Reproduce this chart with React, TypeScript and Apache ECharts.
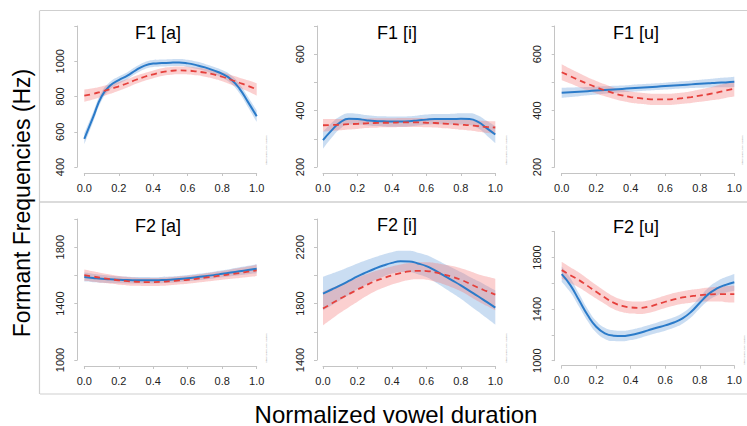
import React, { useEffect, useRef } from 'react';
import * as echarts from 'echarts';

// normalized time points
const T = [0, 0.05, 0.1, 0.15, 0.2, 0.25, 0.3, 0.35, 0.4, 0.45, 0.5, 0.55, 0.6, 0.65, 0.7, 0.75, 0.8, 0.85, 0.9, 0.95, 1];

const TITLES = ['F1 [a]', 'F1 [i]', 'F1 [u]', 'F2 [a]', 'F2 [i]', 'F2 [u]'];
const Y_MIN = [400, 200, 200, 1000, 1400, 1000];
const Y_MAX = [1200, 700, 700, 2000, 2400, 2000];
const Y_STEP = [200, 100, 100, 200, 200, 200];
const Y_LABELS = [
  [400, 600, 800, 1000],
  [200, 400, 600],
  [200, 400, 600],
  [1000, 1400, 1800],
  [1400, 1800, 2200],
  [1000, 1400, 1800],
];

// blue (solid) fitted means and CI half-widths
const BLUE_MEAN = [
  [560, 680, 800, 862, 893, 918, 950, 975, 987, 990, 992, 993, 988, 978, 965, 948, 928, 898, 845, 768, 688],
  [295, 330, 358, 371, 370, 366, 363, 362, 361, 361, 362, 365, 368, 370, 370, 370, 371, 370, 360, 338, 315],
  [463, 465, 467, 469, 471, 473, 475, 477, 479, 481, 483, 485, 487, 489, 491, 493, 495, 497, 499, 500, 502],
  [1588, 1582, 1576, 1572, 1569, 1567, 1566, 1565, 1565, 1567, 1570, 1574, 1580, 1587, 1594, 1602, 1611, 1620, 1629, 1638, 1647],
  [1871, 1900, 1929, 1961, 1993, 2021, 2047, 2070, 2089, 2100, 2099, 2085, 2066, 2035, 2000, 1965, 1929, 1890, 1852, 1812, 1772],
  [1671, 1586, 1470, 1354, 1263, 1212, 1194, 1191, 1200, 1215, 1235, 1255, 1274, 1296, 1328, 1379, 1449, 1516, 1560, 1588, 1608],
];
const BLUE_CI = [
  [32, 28, 24, 22, 21, 20, 20, 20, 20, 20, 20, 20, 20, 20, 20, 21, 22, 24, 26, 29, 33],
  [30, 26, 22, 20, 19, 18, 18, 18, 18, 18, 18, 18, 18, 18, 18, 19, 20, 21, 23, 26, 30],
  [18, 17, 16, 15, 14, 13, 13, 12, 12, 12, 12, 12, 12, 12, 13, 13, 14, 15, 16, 17, 18],
  [32, 30, 28, 26, 25, 24, 23, 23, 22, 22, 22, 22, 22, 23, 23, 24, 25, 26, 28, 30, 32],
  [120, 112, 105, 98, 92, 87, 82, 79, 76, 75, 75, 76, 78, 81, 85, 90, 95, 101, 108, 115, 122],
  [60, 55, 50, 47, 45, 43, 42, 41, 40, 40, 40, 40, 41, 41, 42, 43, 45, 50, 55, 60, 65],
];

// red (dashed) fitted means and CI half-widths
const RED_MEAN = [
  [805, 815, 828, 842, 858, 875, 895, 912, 926, 938, 945, 948, 947, 942, 935, 925, 912, 895, 878, 860, 840],
  [348, 349, 350, 352, 353, 355, 356, 357, 357, 358, 358, 358, 357, 356, 354, 352, 350, 348, 345, 342, 340],
  [536, 522, 508, 495, 483, 472, 462, 454, 448, 444, 441, 440, 440, 441, 444, 448, 453, 458, 464, 471, 478],
  [1602, 1592, 1582, 1573, 1565, 1559, 1555, 1553, 1553, 1555, 1559, 1564, 1569, 1576, 1584, 1592, 1600, 1609, 1617, 1626, 1635],
  [1765, 1800, 1835, 1867, 1899, 1930, 1958, 1980, 2000, 2016, 2028, 2032, 2031, 2022, 2007, 1990, 1969, 1942, 1913, 1888, 1864],
  [1702, 1663, 1625, 1580, 1534, 1490, 1450, 1425, 1413, 1410, 1418, 1436, 1457, 1475, 1490, 1500, 1508, 1513, 1516, 1516, 1516],
];
const RED_CI = [
  [35, 32, 29, 27, 25, 24, 23, 22, 22, 22, 22, 22, 22, 22, 23, 24, 25, 27, 29, 32, 35],
  [22, 21, 20, 19, 18, 17, 17, 16, 16, 16, 16, 16, 16, 16, 17, 17, 18, 19, 20, 21, 22],
  [28, 26, 25, 23, 22, 21, 20, 20, 20, 20, 20, 20, 20, 20, 20, 21, 22, 23, 25, 26, 28],
  [40, 37, 35, 33, 31, 30, 29, 28, 28, 28, 28, 28, 28, 28, 29, 30, 31, 33, 35, 37, 40],
  [120, 110, 100, 92, 85, 78, 72, 68, 64, 62, 60, 60, 62, 66, 70, 76, 82, 89, 96, 104, 112],
  [65, 61, 58, 55, 52, 50, 49, 48, 48, 48, 48, 48, 48, 49, 49, 50, 50, 54, 58, 62, 65],
];

const FONT = '"Liberation Sans", Arial, Helvetica, sans-serif';
const BLUE = '#2b7bc9';
const RED = '#e5403c';
const BLUE_BAND = 'rgba(115, 165, 222, 0.38)';
const RED_BAND = 'rgba(244, 120, 120, 0.35)';
const AXIS_GRAY = '#c4c4c4';

const GRIDS = [
  { left: 84.3, top: 26, width: 172.4, height: 141 },
  { left: 323, top: 26, width: 172.3, height: 141 },
  { left: 561.7, top: 26, width: 172.6, height: 141 },
  { left: 84.3, top: 219, width: 172.4, height: 141 },
  { left: 323, top: 219, width: 172.3, height: 141 },
  { left: 561.7, top: 231.7, width: 172.6, height: 129 },
];
const Y_OFFSET = [7, 6, 7, 7, 6, 7];
const X_OFFSET = [6, 6, 6, 6, 6, 5];
const TITLE_POS = [[158, 33], [397, 33], [636, 33], [158, 226], [397, 225], [636, 227]];
const NOTE_POS = [[266, 150], [506, 150], [742, 150], [266, 348], [506, 348], [744, 350]];

function buildOption() {
  const xAxis: any[] = [];
  const yAxis: any[] = [];
  const series: any[] = [];

  GRIDS.forEach((_, i) => {
    xAxis.push({
      type: 'category',
      gridIndex: i,
      data: T.map((t) => String(t)),
      boundaryGap: false,
      offset: X_OFFSET[i],
      axisLine: { show: true, lineStyle: { color: AXIS_GRAY, width: 1 } },
      axisTick: { show: true, interval: 3, length: 3, lineStyle: { color: AXIS_GRAY } },
      axisLabel: {
        interval: 3,
        margin: 9,
        fontSize: 11,
        color: '#222',
        fontFamily: FONT,
        formatter: (v: string) => Number(v).toFixed(1),
      },
      splitLine: { show: false },
    });
    const labels = Y_LABELS[i];
    yAxis.push({
      type: 'value',
      gridIndex: i,
      min: Y_MIN[i],
      max: Y_MAX[i],
      interval: Y_STEP[i],
      offset: Y_OFFSET[i],
      axisLine: { show: true, lineStyle: { color: AXIS_GRAY, width: 1 } },
      axisTick: { show: true, length: 3, lineStyle: { color: AXIS_GRAY } },
      axisLabel: {
        rotate: 90,
        margin: 12,
        fontSize: 11,
        color: '#222',
        fontFamily: FONT,
        showMinLabel: true,
        showMaxLabel: true,
        formatter: (v: number) => (labels.includes(v) ? String(v) : ''),
      },
      splitLine: { show: false },
    });

    const band = (mean: number[], ci: number[], color: string, key: string) => {
      const stack = `${key}${i}`;
      series.push({
        type: 'line',
        xAxisIndex: i,
        yAxisIndex: i,
        stack,
        data: mean.map((m, k) => m - ci[k]),
        smooth: true,
        symbol: 'none',
        silent: true,
        lineStyle: { width: 0, opacity: 0 },
      });
      series.push({
        type: 'line',
        xAxisIndex: i,
        yAxisIndex: i,
        stack,
        data: ci.map((c) => 2 * c),
        smooth: true,
        symbol: 'none',
        silent: true,
        lineStyle: { width: 0, opacity: 0 },
        areaStyle: { color, opacity: 1 },
      });
    };
    band(BLUE_MEAN[i], BLUE_CI[i], BLUE_BAND, 'b');
    band(RED_MEAN[i], RED_CI[i], RED_BAND, 'r');

    series.push({
      type: 'line',
      xAxisIndex: i,
      yAxisIndex: i,
      data: BLUE_MEAN[i],
      smooth: true,
      symbol: 'none',
      silent: true,
      lineStyle: { color: BLUE, width: 2 },
    });
    series.push({
      type: 'line',
      xAxisIndex: i,
      yAxisIndex: i,
      data: RED_MEAN[i],
      smooth: true,
      symbol: 'none',
      silent: true,
      lineStyle: { color: RED, width: 1.8, type: [6, 4] },
    });
  });

  const graphic: any[] = [
    { type: 'line', shape: { x1: 40, y1: 10.5, x2: 747, y2: 10.5 }, style: { stroke: '#cfcfcf', lineWidth: 1.2 } },
    { type: 'line', shape: { x1: 40, y1: 202, x2: 747, y2: 202 }, style: { stroke: '#cfcfcf', lineWidth: 1.6 } },
    { type: 'line', shape: { x1: 40, y1: 394, x2: 747, y2: 394 }, style: { stroke: '#cfcfcf', lineWidth: 1.2 } },
    { type: 'line', shape: { x1: 39.5, y1: 10.5, x2: 39.5, y2: 394 }, style: { stroke: '#cfcfcf', lineWidth: 1.2 } },
    {
      type: 'text',
      x: 22,
      y: 203,
      rotation: Math.PI / 2,
      style: { text: 'Formant Frequencies (Hz)', font: `23px ${FONT}`, fill: '#000', align: 'center', verticalAlign: 'middle' },
    },
    {
      type: 'text',
      x: 396,
      y: 414,
      style: { text: 'Normalized vowel duration', font: `24px ${FONT}`, fill: '#000', align: 'center', verticalAlign: 'middle' },
    },
  ];
  TITLES.forEach((t, i) => {
    graphic.push({
      type: 'text',
      x: TITLE_POS[i][0],
      y: TITLE_POS[i][1],
      style: { text: t, font: `18px ${FONT}`, fill: '#000', align: 'center', verticalAlign: 'middle' },
    });
    graphic.push({
      type: 'text',
      x: NOTE_POS[i][0],
      y: NOTE_POS[i][1],
      rotation: Math.PI / 2,
      style: { text: 'fitted values, excl. random', font: `2.5px ${FONT}`, fill: '#999', align: 'center', verticalAlign: 'middle' },
    });
  });

  return {
    animation: false,
    backgroundColor: '#fff',
    grid: GRIDS.map((g) => ({ ...g, containLabel: false })),
    xAxis,
    yAxis,
    series,
    graphic,
  };
}

export default function App() {
  const ref = useRef<HTMLDivElement>(null);
  useEffect(() => {
    if (!ref.current) return;
    const chart = echarts.init(ref.current, undefined, { renderer: 'svg' });
    chart.setOption(buildOption() as any);
    return () => chart.dispose();
  }, []);
  return <div ref={ref} style={{ position: 'absolute', left: 0, top: 0, width: 747, height: 426 }} />;
}
